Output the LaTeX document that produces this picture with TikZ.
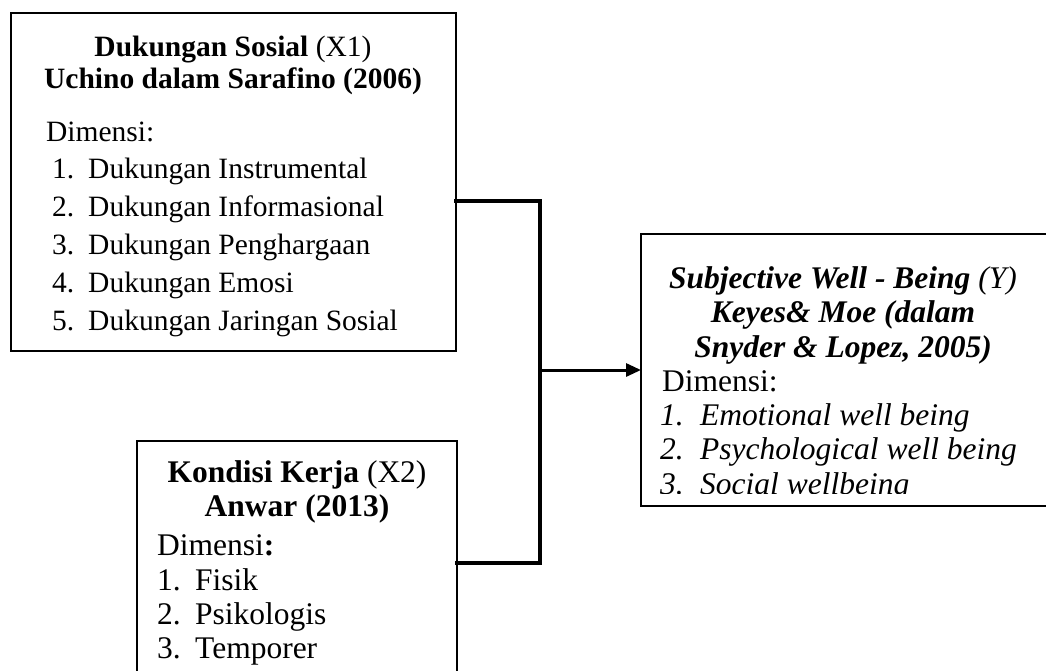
\documentclass[tikz,border=0pt]{standalone}
\usepackage{fontspec}
\setmainfont{Liberation Serif}
\usetikzlibrary{arrows.meta}
\begin{document}
\begin{tikzpicture}[x=1pt,y=-1pt,
  boxframe/.style={draw=black,line width=2pt,fill=none,inner sep=0pt,outer sep=0pt},
  conn/.style={line width=4pt,line cap=rect},
  txtA/.style={inner sep=0pt,font=\fontsize{29.5}{32}\selectfont},
  txtB/.style={inner sep=0pt,font=\fontsize{31.5}{34}\selectfont}]
\useasboundingbox[fill=white] (0,0) rectangle (1046,670);
\clip (0,0) rectangle (1046,670);
% boxes
\node[boxframe,minimum width=460pt,minimum height=272pt] (y) at (871,370) {};
\node[boxframe,minimum width=445pt,minimum height=338pt] (x1) at (233.35,181.6) {};
\node[boxframe,minimum width=320pt,minimum height=270pt] (x2) at (297,576) {};
% box 1 text
\node[txtA,anchor=base] (x1t1) at (233,56) {\textbf{Dukungan Sosial} (X1)};
\node[txtA,anchor=base] (x1t2) at (233,88) {\textbf{Uchino dalam Sarafino (2006)}};
\node[txtA,anchor=base west] (x1d) at (46,141) {Dimensi:};
\foreach \n/\t/\yy in {1/Dukungan Instrumental/178,2/Dukungan Informasional/216,3/Dukungan Penghargaan/254,4/Dukungan Emosi/292,5/Dukungan Jaringan Sosial/330}{
  \node[txtA,anchor=base west] (x1n\n) at (52,\yy) {\n.};
  \node[txtA,anchor=base west] (x1i\n) at (88,\yy) {\t};
}
% box 2 text
\node[txtB,anchor=base] (x2t1) at (297,482) {\textbf{Kondisi Kerja} (X2)};
\node[txtB,anchor=base] (x2t2) at (297,516) {\textbf{Anwar (2013)}};
\node[txtB,anchor=base west] (x2d) at (157,555) {Dimensi\textbf{:}};
\foreach \n/\t/\yy in {1/Fisik/590,2/Psikologis/624,3/Temporer/658}{
  \node[txtB,anchor=base west] (x2n\n) at (157,\yy) {\n.};
  \node[txtB,anchor=base west] (x2i\n) at (195,\yy) {\t};
}
% right box text
\begin{scope}
\clip (600,230) rectangle (1046,493);
\node[txtB,anchor=base] (yt1) at (843,288) {\textbf{\textit{Subjective Well - Being}} \textit{(Y)}};
\node[txtB,anchor=base] (yt2) at (843,322) {\textbf{\textit{Keyes\& Moe (dalam}}};
\node[txtB,anchor=base] (yt3) at (843,357) {\textbf{\textit{Snyder \& Lopez, 2005)}}};
\node[txtB,anchor=base west] (yd) at (662,391) {Dimensi:};
\foreach \n/\t/\yy in {1/Emotional well being/425,2/Psychological well being/459,3/Social wellbeing/494}{
  \node[txtB,anchor=base west] (yn\n) at (660,\yy) {\textit{\n.}};
  \node[txtB,anchor=base west] (yi\n) at (700,\yy) {\textit{\t}};
}
\end{scope}
% connectors
\coordinate (j1) at (540,201);
\coordinate (j2) at (540,563);
\draw[conn] (x1.east |- j1) -- (j1) -- (j2) -- (x2.east |- j2);
\draw[line width=3pt,-{Triangle[length=15pt,width=13pt]}] (y.west -| j1) -- (y.west);
\end{tikzpicture}
\end{document}
